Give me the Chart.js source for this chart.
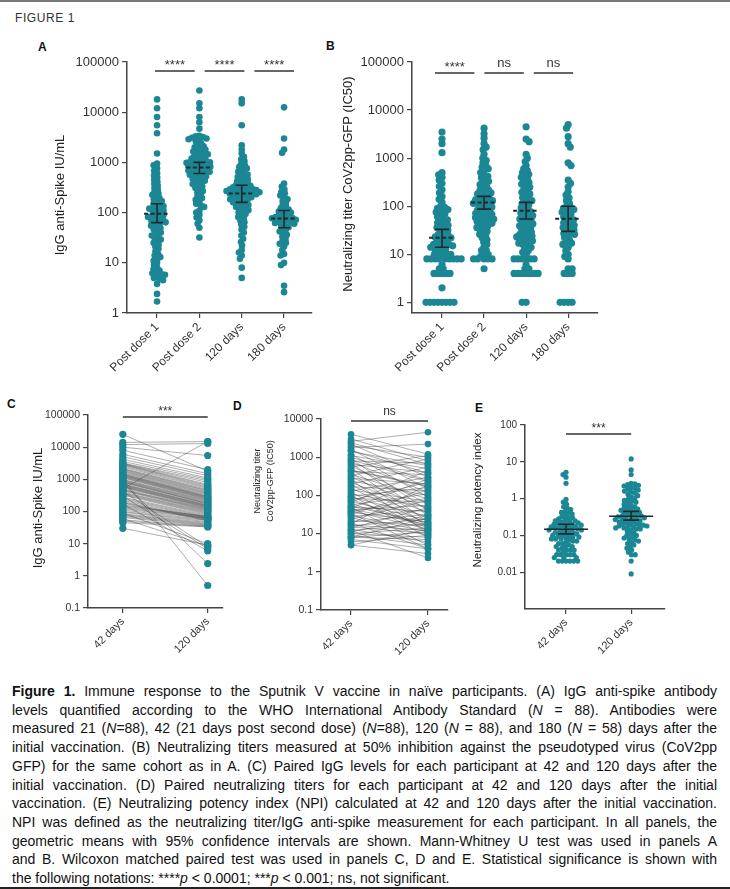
<!DOCTYPE html>
<html>
<head>
<meta charset="utf-8">
<script src="https://cdn.jsdelivr.net/npm/chart.js@4.4.1/dist/chart.umd.min.js"></script>
<style>
    body { margin: 0; width: 730px; height: 889px; position: relative; overflow: hidden; background: #fff;
           font-family: "Liberation Sans", Arial, sans-serif; color: #222; }
    canvas { position: absolute; }
    .edge-top { position: absolute; left: 0; top: 0; width: 730px; height: 2px; background: #777; }
    .edge-bottom { position: absolute; left: 0; top: 887px; width: 730px; height: 2px; background: #222; }
    .fig-title { position: absolute; left: 15px; top: 11px; font-size: 12px; letter-spacing: 0.6px; color: #333; }
    .panel-letter { position: absolute; font-size: 12px; font-weight: bold; line-height: 1; color: #111; }
    #caption { position: absolute; left: 12px; top: 682px; width: 705px; font-size: 14px; line-height: 18.7px; color: #111; }
    #caption div { text-align: justify; text-align-last: justify; white-space: nowrap; }
    #caption div.last { text-align-last: left; }
</style>
</head>
<body>
<div class="edge-top"></div>
<div class="fig-title">FIGURE 1</div>
<div class="panel-letter" style="left:38px;top:41px">A</div>
<div class="panel-letter" style="left:326px;top:40px">B</div>
<div class="panel-letter" style="left:7px;top:398px">C</div>
<div class="panel-letter" style="left:233px;top:400px">D</div>
<div class="panel-letter" style="left:475px;top:402px">E</div>

<canvas id="chartA"></canvas>
<canvas id="chartB"></canvas>
<canvas id="chartC"></canvas>
<canvas id="chartD"></canvas>
<canvas id="chartE"></canvas>

<div id="caption">
    <div><b>Figure 1.</b> Immune response to the Sputnik V vaccine in naïve participants. (A) IgG anti-spike antibody</div>
    <div>levels quantified according to the WHO International Antibody Standard (<i>N</i> = 88). Antibodies were</div>
    <div>measured 21 (<i>N</i>=88), 42 (21 days post second dose) (<i>N</i>=88), 120 (<i>N</i> = 88), and 180 (<i>N</i> = 58) days after the</div>
    <div>initial vaccination. (B) Neutralizing titers measured at 50% inhibition against the pseudotyped virus (CoV2pp</div>
    <div>GFP) for the same cohort as in A. (C) Paired IgG levels for each participant at 42 and 120 days after the</div>
    <div>initial vaccination. (D) Paired neutralizing titers for each participant at 42 and 120 days after the initial</div>
    <div>vaccination. (E) Neutralizing potency index (NPI) calculated at 42 and 120 days after the initial vaccination.</div>
    <div>NPI was defined as the neutralizing titer/IgG anti-spike measurement for each participant. In all panels, the</div>
    <div>geometric means with 95% confidence intervals are shown. Mann-Whitney U test was used in panels A</div>
    <div>and B. Wilcoxon matched paired test was used in panels C, D and E. Statistical significance is shown with</div>
    <div class="last">the following notations: ****<i>p</i> &lt; 0.0001; ***<i>p</i> &lt; 0.001; ns, not significant.</div>
</div>
<div class="edge-bottom"></div>

<script>
const FONT = '"Liberation Sans", Arial, sans-serif';
const TEAL = '#1b8795';
const INK = '#1f2a2e';
const AXIS = '#444';

// categories
const stageLabels = ['Post dose 1', 'Post dose 2', '120 days', '180 days'];
const pairLabels = ['42 days', '120 days'];

// tick values
const ticksAB = [1, 10, 100, 1000, 10000, 100000];
const ticksC = [0.1, 1, 10, 100, 1000, 10000, 100000];
const ticksD = [0.1, 1, 10, 100, 1000, 10000];
const ticksE = [0.01, 0.1, 1, 10, 100];

// panel A: IgG anti-Spike IU/mL
const iggDose1 = [18000, 12000, 8000, 5500, 3800, 1500, 950, 880, 760, 680,
    610, 550, 500, 450, 410, 370, 340, 310, 285, 260,
    240, 225, 210, 195, 182, 170, 160, 150, 142, 135,
    128, 122, 116, 110, 105, 100, 96, 92, 88, 85,
    82, 79, 76, 73, 70, 67, 64, 61, 58, 55,
    52, 49, 46, 43, 40, 37, 35, 33, 31, 29,
    27, 25, 23, 21, 19, 17, 15, 14, 13, 12,
    11, 10, 9, 8, 7.5, 7, 6.5, 6, 5.5, 5,
    6.2, 5.8, 4.8, 4.5, 3.8, 2.4, 1.7, 120];
const iggDose2 = [27000, 15000, 12000, 8000, 6300, 4700, 3400, 3300, 3200, 3100,
    3000, 2900, 2800, 2600, 2400, 2200, 2100, 2000, 1900, 1800,
    1700, 1650, 1600, 1500, 1450, 1400, 1350, 1300, 1250, 1200,
    1150, 1100, 1080, 1050, 1020, 1000, 980, 950, 920, 900,
    880, 860, 840, 820, 790, 770, 750, 730, 710, 690,
    670, 650, 630, 610, 590, 570, 550, 530, 510, 490,
    470, 450, 430, 410, 390, 370, 350, 330, 310, 290,
    270, 250, 230, 210, 195, 180, 165, 150, 140, 130,
    110, 100, 90, 80, 70, 60, 50, 32];
const igg120 = [18000, 15000, 5500, 2200, 1800, 1500, 1300, 1150, 1050, 950,
    880, 820, 760, 700, 650, 610, 570, 540, 510, 480,
    460, 440, 420, 400, 385, 370, 355, 340, 330, 320,
    310, 300, 295, 290, 285, 280, 275, 270, 265, 260,
    255, 250, 245, 242, 238, 232, 226, 220, 214, 208,
    202, 196, 190, 184, 178, 172, 166, 160, 154, 148,
    142, 136, 130, 124, 118, 112, 106, 100, 94, 88,
    82, 76, 70, 64, 58, 52, 46, 40, 35, 30,
    26, 22, 18, 16, 14, 12, 8, 5];
const igg180 = [12500, 3000, 1800, 1550, 380, 330, 290, 260, 240, 220,
    200, 185, 170, 155, 142, 130, 122, 115, 110, 105,
    100, 96, 92, 88, 85, 82, 80, 78, 77, 75,
    72, 70, 68, 66, 64, 62, 60, 57, 54, 51,
    48, 45, 42, 39, 36, 33, 30, 27, 25, 24,
    21, 18, 15, 14, 10, 9, 3.5, 2.6];
const iggMeans = [95, 790, 240, 76];
const iggCiLow = [63, 600, 160, 50];
const iggCiHigh = [150, 1000, 350, 110];
const sigA = ['****', '****', '****'];

// panel B: neutralizing titer CoV2pp-GFP (IC50)
const ntDose1 = [3500, 2500, 2000, 1300, 500, 450, 400, 350, 300, 260,
    220, 190, 160, 140, 120, 100, 95, 90, 85, 80,
    75, 70, 65, 60, 56, 52, 48, 45, 42, 40,
    38, 36, 34, 32, 30, 28, 26, 25, 24, 23,
    22, 21, 20, 19, 18, 17, 16, 16, 15, 15,
    14, 14, 13, 12, 12, 11, 10, 10, 10, 9,
    8, 8, 8, 8, 8, 8, 8, 6, 5, 5,
    4, 4, 4, 4, 2, 1, 1, 1, 1, 1,
    1, 1, 1, 8, 8, 4, 10, 16];
const ntDose2 = [4200, 3200, 2600, 2000, 1700, 1500, 1200, 1000, 900, 800,
    700, 650, 600, 550, 500, 450, 420, 390, 360, 330,
    300, 280, 260, 240, 220, 210, 200, 190, 180, 170,
    160, 150, 145, 140, 135, 130, 125, 120, 115, 110,
    105, 100, 96, 92, 88, 84, 80, 77, 74, 71,
    68, 65, 62, 60, 58, 56, 54, 52, 50, 48,
    46, 44, 42, 40, 38, 36, 34, 32, 30, 28,
    26, 24, 22, 20, 18, 16, 14, 12, 12, 10,
    10, 8, 8, 8, 8, 8, 9, 5];
const nt120 = [4500, 2500, 2200, 1200, 1000, 850, 700, 600, 550, 500,
    460, 430, 400, 370, 340, 310, 290, 270, 250, 230,
    210, 195, 180, 165, 150, 140, 130, 120, 112, 105,
    98, 92, 86, 80, 76, 72, 68, 64, 60, 57,
    54, 51, 48, 45, 43, 41, 39, 37, 35, 33,
    31, 29, 27, 26, 25, 24, 23, 22, 21, 20,
    19, 18, 17, 16, 15, 14, 13, 12, 11, 10,
    8, 8, 8, 8, 8, 8, 6, 5, 5, 4,
    4, 4, 4, 4, 4, 4, 1, 1];
const nt180 = [5000, 4200, 2800, 2000, 1700, 800, 700, 350, 300, 250,
    200, 170, 150, 130, 115, 100, 95, 90, 85, 80,
    75, 70, 65, 60, 56, 52, 48, 45, 42, 40,
    38, 36, 34, 32, 30, 28, 26, 24, 22, 20,
    18, 16, 14, 12, 10, 9, 8, 5, 5, 4,
    4, 4, 1, 1, 1, 1, 17, 27];
const ntMeans = [22, 120, 80, 55];
const ntCiLow = [14, 87, 54, 30];
const ntCiHigh = [33, 160, 120, 100];
const sigB = ['****', 'ns', 'ns'];

// panel C: paired IgG (same index = same participant)
const pairedIgg42 = [25000, 14000, 12000, 10000, 8000, 6000, 5000, 4200, 3600, 3200,
    3100, 3000, 2900, 2800, 2600, 2400, 2200, 2100, 2000, 1900,
    1800, 1700, 1600, 1500, 1450, 1400, 1350, 1300, 1250, 1200,
    1150, 1100, 1050, 1000, 960, 920, 880, 850, 820, 790,
    760, 730, 700, 680, 650, 620, 600, 580, 550, 520,
    500, 480, 460, 440, 420, 400, 380, 360, 340, 320,
    300, 280, 260, 240, 220, 200, 190, 180, 170, 160,
    150, 140, 130, 120, 110, 100, 95, 90, 85, 80,
    75, 70, 65, 60, 55, 50, 45, 30];
const pairedIgg120 = [1800, 15000, 13000, 5500, 2000, 1500, 1300, 1100, 1000, 900,
    800, 700, 650, 600, 560, 520, 480, 450, 430, 400,
    380, 360, 340, 320, 300, 290, 280, 270, 260, 250,
    240, 230, 0.5, 220, 210, 200, 190, 180, 175, 170,
    2.4, 160, 155, 150, 145, 140, 135, 130, 125, 15000,
    120, 115, 110, 105, 8, 100, 95, 90, 85, 80,
    7, 75, 70, 66, 62, 58, 55, 52, 6, 70,
    68, 65, 62, 60, 55, 52, 48, 10, 45, 42,
    40, 38, 36, 8.5, 35, 34, 33, 9];

// panel D: paired neutralizing titers
const pairedNt42 = [4000, 3000, 2600, 2200, 2000, 1800, 1600, 1400, 1200, 1100,
    1000, 900, 800, 750, 700, 650, 600, 550, 500, 460,
    420, 390, 360, 330, 300, 280, 260, 240, 220, 200,
    185, 170, 155, 140, 130, 120, 110, 100, 95, 90,
    85, 80, 75, 70, 65, 60, 56, 52, 50, 48,
    46, 44, 42, 40, 38, 36, 34, 32, 30, 28,
    26, 24, 22, 20, 19, 18, 17, 16, 15, 14,
    13, 12, 12, 11, 10, 10, 9, 8, 8, 8,
    7, 6, 5, 5, 2400, 1500, 850, 450];
const pairedNt120 = [1200, 800, 4500, 300, 1000, 2200, 150, 600, 90, 500,
    250, 40, 700, 120, 30, 400, 60, 1100, 20, 180,
    350, 15, 80, 900, 45, 200, 10, 100, 35, 550,
    25, 130, 18, 70, 300, 12, 50, 8, 160, 28,
    65, 14, 220, 22, 450, 16, 110, 19, 38, 5,
    270, 17, 55, 13, 85, 20, 4, 140, 11, 42,
    9, 75, 16, 32, 4, 190, 12, 24, 10, 48,
    6, 18, 2.3, 30, 8, 14, 5, 26, 7, 11,
    4, 9, 3, 13, 650, 380, 230, 170];

// panel E: neutralizing potency index
const npi42 = [5.2, 4.5, 3.8, 2.6, 0.95, 0.8, 0.7, 0.6, 0.55, 0.5,
    0.45, 0.42, 0.4, 0.38, 0.35, 0.32, 0.3, 0.28, 0.26, 0.25,
    0.24, 0.23, 0.22, 0.21, 0.2, 0.2, 0.19, 0.18, 0.18, 0.17,
    0.17, 0.16, 0.16, 0.15, 0.15, 0.14, 0.14, 0.13, 0.13, 0.12,
    0.12, 0.11, 0.11, 0.1, 0.1, 0.1, 0.095, 0.09, 0.09, 0.085,
    0.08, 0.08, 0.075, 0.07, 0.07, 0.065, 0.06, 0.06, 0.055, 0.05,
    0.05, 0.05, 0.045, 0.04, 0.04, 0.04, 0.04, 0.035, 0.03, 0.03,
    0.03, 0.03, 0.03, 0.025, 0.025, 0.025, 0.02, 0.02, 0.02, 0.02,
    0.02, 0.02, 0.2, 0.25, 0.3, 0.15, 0.12, 0.08];
const npi120 = [12, 6, 4.5, 2.6, 2.5, 2.4, 2.3, 2.2, 2, 1.9,
    1.8, 1.7, 1.6, 1.5, 1.4, 1.3, 1.2, 1.1, 1, 0.95,
    0.9, 0.85, 0.8, 0.75, 0.7, 0.65, 0.6, 0.58, 0.55, 0.52,
    0.5, 0.48, 0.46, 0.44, 0.42, 0.4, 0.38, 0.36, 0.35, 0.34,
    0.33, 0.32, 0.3, 0.29, 0.28, 0.27, 0.26, 0.25, 0.24, 0.23,
    0.22, 0.21, 0.2, 0.2, 0.19, 0.19, 0.18, 0.18, 0.17, 0.17,
    0.16, 0.16, 0.15, 0.15, 0.14, 0.13, 0.12, 0.11, 0.1, 0.1,
    0.09, 0.085, 0.08, 0.075, 0.07, 0.065, 0.06, 0.055, 0.05, 0.045,
    0.04, 0.035, 0.03, 0.03, 0.02, 0.009, 0.25, 0.3];
const npiMeans = [0.146, 0.33];
const npiCiLow = [0.11, 0.26];
const npiCiHigh = [0.2, 0.45];
const sigC = ['***'];
const sigD = ['ns'];
const sigE = ['***'];


// simple beeswarm: pixel offsets so dots at similar heights sit side by side
function beeswarm(ys, sep) {
    const order = ys.map((_, i) => i).sort((a, b) => ys[a] - ys[b]);
    const placed = [];
    const out = new Array(ys.length).fill(0);
    order.forEach((i, k) => {
        const y = ys[i];
        const near = placed.filter(p => Math.abs(p.y - y) < sep);
        const cands = [0];
        near.forEach(p => {
            const dx = Math.sqrt(sep * sep - (p.y - y) ** 2);
            cands.push(p.x + dx, p.x - dx);
        });
        const sign = k % 2 ? 1 : -1;
        cands.sort((a, b) => (Math.abs(a) - Math.abs(b)) || (sign * (a - b)));
        const x = cands.find(c => near.every(p => (p.x - c) ** 2 + (p.y - y) ** 2 >= sep * sep - 0.01));
        out[i] = x;
        placed.push({x, y});
    });
    return out;
}

function overlayPlugin(cfg) {
    return {
        id: 'overlay',
        afterDatasetsDraw(chart) {
            const {ctx} = chart;
            const xs = chart.scales.x;
            const ys = chart.scales.y;
            ctx.save();
            // geometric mean with 95% CI
            if (cfg.means) {
                const m = cfg.means;
                ctx.strokeStyle = INK;
                m.values.forEach((v, i) => {
                    const px = xs.getPixelForValue(i);
                    const py = ys.getPixelForValue(v);
                    const lo = ys.getPixelForValue(m.lo[i]);
                    const hi = ys.getPixelForValue(m.hi[i]);
                    ctx.lineWidth = m.width;
                    ctx.setLineDash(m.dash || []);
                    ctx.beginPath();
                    ctx.moveTo(px - m.half, py);
                    ctx.lineTo(px + m.half, py);
                    ctx.stroke();
                    ctx.setLineDash([]);
                    ctx.lineWidth = 1.6;
                    ctx.beginPath();
                    ctx.moveTo(px, lo); ctx.lineTo(px, hi);
                    ctx.moveTo(px - m.cap, lo); ctx.lineTo(px + m.cap, lo);
                    ctx.moveTo(px - m.cap, hi); ctx.lineTo(px + m.cap, hi);
                    ctx.stroke();
                });
            }
            // significance bars
            const s = cfg.sig;
            const n = s.texts.length;
            const x0 = xs.getPixelForValue(0) + s.from;
            const x1 = xs.getPixelForValue(cfg.labels.length - 1) + s.to;
            const w = (x1 - x0 - s.gap * (n - 1)) / n;
            const by = ys.getPixelForValue(s.level);
            ctx.strokeStyle = '#333';
            ctx.fillStyle = '#333';
            ctx.lineWidth = 1.5;
            ctx.textAlign = 'center';
            ctx.textBaseline = 'alphabetic';
            ctx.font = s.font + 'px ' + FONT;
            s.texts.forEach((t, k) => {
                const a = x0 + k * (w + s.gap);
                ctx.beginPath();
                ctx.moveTo(a, by);
                ctx.lineTo(a + w, by);
                ctx.stroke();
                ctx.fillText(t, a + w / 2, by - (t === 'ns' ? 6 : 2));
            });
            // y axis title
            const t = cfg.title;
            const rect = chart.canvas.getBoundingClientRect();
            ctx.translate(t.x - rect.left, t.y - rect.top);
            ctx.rotate(-Math.PI / 2);
            ctx.font = t.font + 'px ' + FONT;
            ctx.fillStyle = '#222';
            ctx.textBaseline = 'middle';
            t.lines.forEach((line, i) => ctx.fillText(line, 0, (i - (t.lines.length - 1) / 2) * t.lh));
            ctx.restore();
        }
    };
}

function makePanel(id, cfg) {
    const el = document.getElementById(id);
    const [cl, ct, cw, ch] = cfg.canvas;
    const [pl, pt, pr, pb] = cfg.plot;
    el.width = cw; el.height = ch;
    el.style.left = cl + 'px'; el.style.top = ct + 'px';

    const datasets = [];
    if (cfg.pairs) {
        const [a, b] = cfg.pairs;
        a.forEach((v, i) => datasets.push({
            type: 'line', data: [{x: 0, y: v}, {x: 1, y: b[i]}], borderColor: 'rgba(60,60,60,0.6)',
            borderWidth: 0.7, pointRadius: 0, order: 2
        }));
        [a, b].forEach((arr, ci) => datasets.push({
            data: arr.map(v => ({x: ci, y: v})), backgroundColor: TEAL, borderWidth: 0,
            pointRadius: cfg.radius, order: 1
        }));
    } else {
        cfg.groups.forEach((arr, ci) => datasets.push({
            data: arr.map(v => ({x: ci, y: v, cat: ci})), backgroundColor: TEAL, borderWidth: 0,
            pointRadius: cfg.radius, order: 1
        }));
    }

    const grid = {drawOnChartArea: false, drawTicks: true, tickLength: 5, color: AXIS, lineWidth: 1.2};
    const border = {color: AXIS, width: 1.5};
    const chart = new Chart(el, {
        type: 'scatter',
        data: {datasets},
        options: {
            responsive: false, animation: false, events: [],
            layout: {padding: {left: 0, top: pt - ct, right: cl + cw - pr, bottom: 0}},
            plugins: {legend: {display: false}, tooltip: {enabled: false}},
            scales: {
                x: {
                    type: 'linear', min: cfg.xMin, max: cfg.xMax,
                    afterBuildTicks: s => { s.ticks = cfg.labels.map((_, i) => ({value: i})); },
                    afterFit: s => { s.height = ct + ch - pb; },
                    ticks: {
                        callback: v => cfg.labels[v], autoSkip: false, minRotation: 45, maxRotation: 45,
                        padding: 2, color: '#333', font: {family: FONT, size: cfg.xFont}
                    },
                    grid, border
                },
                y: {
                    type: 'logarithmic', min: cfg.yMin, max: cfg.yMax,
                    afterBuildTicks: s => { s.ticks = cfg.yTicks.map(v => ({value: v})); },
                    afterFit: s => { s.width = pl - cl; },
                    ticks: {
                        callback: v => String(v), autoSkip: false, padding: 3, color: '#333',
                        font: {family: FONT, size: cfg.yFont}
                    },
                    grid, border
                }
            }
        },
        plugins: [overlayPlugin(cfg)]
    });

    if (!cfg.pairs) {
        const xs = chart.scales.x;
        const ys = chart.scales.y;
        const unit = xs.getPixelForValue(1) - xs.getPixelForValue(0);
        chart.data.datasets.forEach(ds => {
            const offs = beeswarm(ds.data.map(p => ys.getPixelForValue(p.y)), cfg.sep);
            ds.data.forEach((p, i) => { p.x = p.cat + offs[i] / unit; });
        });
        chart.update('none');
    }
    return chart;
}

makePanel('chartA', {
    canvas: [0, 40, 320, 345], plot: [127, 62, 312, 313],
    labels: stageLabels, xMin: -0.71, xMax: 3.66, xFont: 12,
    yMin: 1, yMax: 100000, yTicks: ticksAB, yFont: 13,
    groups: [iggDose1, iggDose2, igg120, igg180], radius: 3.3, sep: 3.8,
    means: {values: iggMeans, lo: iggCiLow, hi: iggCiHigh, half: 13, cap: 6, width: 2, dash: [4, 2.5]},
    sig: {level: 66000, texts: sigA, from: -2, to: 10, gap: 10, font: 13},
    title: {lines: ['IgG anti-Spike IU/mL'], x: 60, y: 195, font: 13, lh: 15}
});

makePanel('chartB', {
    canvas: [320, 40, 300, 345], plot: [412, 62, 598, 313],
    labels: stageLabels, xMin: -0.714, xMax: 3.71, xFont: 12,
    yMin: 0.62, yMax: 100000, yTicks: ticksAB, yFont: 13,
    groups: [ntDose1, ntDose2, nt120, nt180], radius: 3.6, sep: 4.0,
    means: {values: ntMeans, lo: ntCiLow, hi: ntCiHigh, half: 13, cap: 7, width: 2, dash: [4, 2.5]},
    sig: {level: 59000, texts: sigB, from: -7, to: 5, gap: 10, font: 13},
    title: {lines: ['Neutralizing titer CoV2pp-GFP (IC50)'], x: 348, y: 184, font: 13, lh: 15}
});

makePanel('chartC', {
    canvas: [0, 395, 235, 275], plot: [88, 415, 223, 608],
    labels: pairLabels, xMin: -0.41, xMax: 1.18, xFont: 11,
    yMin: 0.1, yMax: 100000, yTicks: ticksC, yFont: 10.5,
    pairs: [pairedIgg42, pairedIgg120], radius: 3.6,
    sig: {level: 87000, texts: sigC, from: 0, to: 0, gap: 0, font: 12},
    title: {lines: ['IgG anti-Spike IU/mL'], x: 38, y: 508, font: 13, lh: 15}
});

makePanel('chartD', {
    canvas: [235, 395, 225, 275], plot: [321, 419, 448, 610],
    labels: pairLabels, xMin: -0.39, xMax: 1.26, xFont: 11,
    yMin: 0.1, yMax: 10000, yTicks: ticksD, yFont: 10.5,
    pairs: [pairedNt42, pairedNt120], radius: 3.3,
    sig: {level: 8900, texts: sigD, from: 0, to: 0, gap: 0, font: 12},
    title: {lines: ['Neutralizing titer', 'CoV2pp-GFP (IC50)'], x: 264.5, y: 481, font: 9, lh: 13}
});

makePanel('chartE', {
    canvas: [460, 395, 270, 275], plot: [525, 425, 665, 609],
    labels: pairLabels, xMin: -0.63, xMax: 1.52, xFont: 11,
    yMin: 0.001, yMax: 100, yTicks: ticksE, yFont: 10,
    groups: [npi42, npi120], radius: 2.6, sep: 3.8,
    means: {values: npiMeans, lo: npiCiLow, hi: npiCiHigh, half: 22, cap: 8, width: 1.5},
    sig: {level: 57, texts: sigE, from: 0, to: 0, gap: 0, font: 12},
    title: {lines: ['Neutralizing potency index'], x: 478, y: 500, font: 11.5, lh: 14}
});
</script>
</body>
</html>
